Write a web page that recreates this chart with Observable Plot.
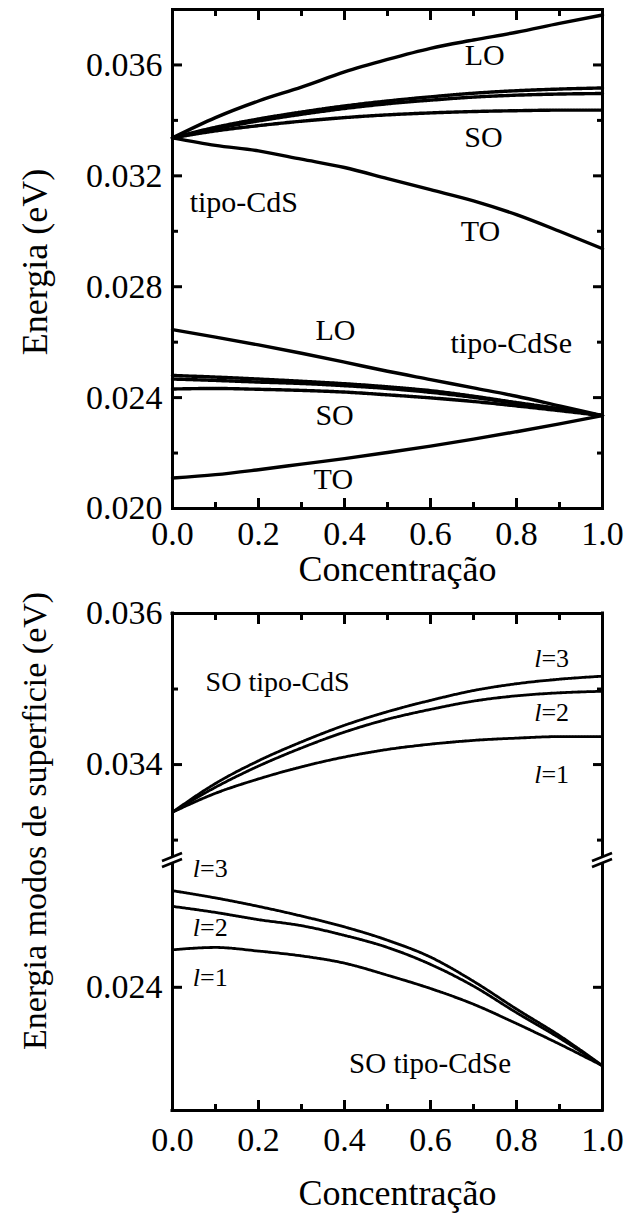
<!DOCTYPE html>
<html><head><meta charset="utf-8">
<script src="https://cdn.jsdelivr.net/npm/d3@7"></script>
<script src="https://cdn.jsdelivr.net/npm/@observablehq/plot@0.6"></script>
<style>
body{margin:0;background:#fff;}
#wrap{position:relative;width:628px;height:1214px;overflow:hidden;background:#fff;}
#wrap svg{position:absolute;left:0;top:0;overflow:visible;font-family:"Liberation Serif","Times New Roman",serif;}
#wrap svg text{font-family:"Liberation Serif","Times New Roman",serif;}
</style></head><body><div id="wrap"></div>
<script>
// ---- data ----
const conc = [0, 0.1, 0.2, 0.3, 0.4, 0.5, 0.6, 0.7, 0.8, 0.9, 1.0];
const cdsLO  = [0.03337, 0.0341, 0.0347, 0.0352, 0.03575, 0.0362, 0.0366, 0.0369, 0.03718, 0.0375, 0.0378];
const cdsTO  = [0.03337, 0.0331, 0.0329, 0.0326, 0.0323, 0.0319, 0.0315, 0.0311, 0.0306, 0.0300, 0.02937];
const cdsSO1 = [0.03337, 0.03362, 0.03381, 0.03397, 0.0341, 0.0342, 0.03427, 0.03432, 0.03435, 0.03437, 0.03437];
const cdsSO2 = [0.03337, 0.0337, 0.03398, 0.03422, 0.03443, 0.0346, 0.03473, 0.03484, 0.03491, 0.03495, 0.03497];
const cdsSO3 = [0.03337, 0.03375, 0.03405, 0.0343, 0.03452, 0.0347, 0.03485, 0.03498, 0.03507, 0.03513, 0.03517];
const cdseLO  = [0.02645, 0.02618, 0.0259, 0.0256, 0.02528, 0.02495, 0.02465, 0.02435, 0.02405, 0.0237, 0.02335];
const cdseTO  = [0.0211, 0.02122, 0.0214, 0.0216, 0.0218, 0.02202, 0.02225, 0.0225, 0.02277, 0.02305, 0.02335];
const cdseSO1 = [0.02431, 0.02433, 0.0243, 0.02426, 0.0242, 0.0241, 0.02399, 0.02386, 0.0237, 0.02353, 0.02335];
const cdseSO2 = [0.02467, 0.02462, 0.02456, 0.02451, 0.02443, 0.02433, 0.02419, 0.02401, 0.02379, 0.02358, 0.02335];
const cdseSO3 = [0.0248, 0.02474, 0.02467, 0.02459, 0.0245, 0.02439, 0.02425, 0.02405, 0.02382, 0.0236, 0.02335];

const xMajor = [0, 0.2, 0.4, 0.6, 0.8, 1.0];
const xMinor = [0.1, 0.3, 0.5, 0.7, 0.9];
const topYMajor = [0.020, 0.024, 0.028, 0.032, 0.036];
const topYMinor = [0.022, 0.026, 0.030, 0.034];
const upYMajor = [0.034, 0.036];
const upYMinor = [0.033, 0.035];
const loYMajor = [0.024];

const topDomain = [0.020, 0.038];
const upDomain = [0.03273, 0.036];
const loDomain = [0.02298, 0.02505];

const topLabels = [
  {t: "LO", x: 0.726, y: 0.03636, a: "middle"},
  {t: "SO", x: 0.723, y: 0.0334, a: "middle"},
  {t: "TO", x: 0.716, y: 0.02998, a: "middle"},
  {t: "tipo-CdS", x: 0.04, y: 0.03106, a: "start"},
  {t: "LO", x: 0.379, y: 0.02641, a: "middle"},
  {t: "tipo-CdSe", x: 0.788, y: 0.02595, a: "middle"},
  {t: "SO", x: 0.377, y: 0.02335, a: "middle"},
  {t: "TO", x: 0.374, y: 0.02105, a: "middle"}
];
const upLabels = [{t: "SO tipo-CdS", x: 0.077, y: 0.03509}];
const upL = [{n: "=3", x: 0.858, y: 0.0354}, {n: "=2", x: 0.858, y: 0.03469}, {n: "=1", x: 0.858, y: 0.03387}];
const loLabels = [{t: "SO tipo-CdSe", x: 0.599, y: 0.02337}];
const loL = [{n: "=3", x: 0.064, y: 0.02498}, {n: "=2", x: 0.064, y: 0.02449}, {n: "=1", x: 0.064, y: 0.02408}];

const series = (name, vals) => vals.map((v, i) => ({c: conc[i], e: v, s: name}));
const solidTop = [...series("cdsLO", cdsLO), ...series("cdsTO", cdsTO), ...series("cdseLO", cdseLO), ...series("cdseTO", cdseTO)];
const soCdS = [...series("s1", cdsSO1), ...series("s2", cdsSO2), ...series("s3", cdsSO3)];
const soCdSe = [...series("e1", cdseSO1), ...series("e2", cdseSO2), ...series("e3", cdseSO3)];

const W = 628, H = 1214, ML = 172, MR = 26;
const fmt3 = d3.format(".3f"), fmt1 = d3.format(".1f"), none = () => "";
const TICK = 34;
const FONT = "'Liberation Serif', 'Times New Roman', serif";
const STYLE = {background: "transparent", overflow: "visible", fontFamily: FONT};
const T = {fontFamily: FONT, fill: "black"};

function yAxes(major, minor, labelPad) {
  return [
    Plot.axisY(major, {anchor: "left", tickSize: -10, tickPadding: labelPad, strokeWidth: 3, tickFormat: fmt3, fontSize: TICK, fontFamily: FONT, label: null}),
    Plot.axisY(minor, {anchor: "left", tickSize: -6, strokeWidth: 3, tickFormat: none, label: null}),
    Plot.axisY(major, {anchor: "right", tickSize: -10, strokeWidth: 3, tickFormat: none, label: null}),
    Plot.axisY(minor, {anchor: "right", tickSize: -6, strokeWidth: 3, tickFormat: none, label: null})
  ];
}
function xAxes(anchor, withLabels, pad) {
  return [
    Plot.axisX(xMajor, {anchor, tickSize: -10, tickPadding: pad, strokeWidth: 3, tickFormat: withLabels ? fmt1 : none, fontSize: TICK, fontFamily: FONT, label: null}),
    Plot.axisX(xMinor, {anchor, tickSize: -6, strokeWidth: 3, tickFormat: none, label: null})
  ];
}
const title = (s, opts) => Plot.text([s], {...T, textAnchor: "middle", lineAnchor: "middle", ...opts});

// ---- top panel ----
const topPlot = Plot.plot({
  width: W, height: H, marginLeft: ML, marginRight: MR, marginTop: 9, marginBottom: H - 508,
  x: {domain: [0, 1]}, y: {domain: topDomain},
  style: STYLE,
  marks: [
    Plot.line(solidTop, {x: "c", y: "e", z: "s", stroke: "black", strokeWidth: 3.4, curve: "monotone-x"}),
    Plot.line([...soCdS, ...soCdSe], {x: "c", y: "e", z: "s", stroke: "black", strokeWidth: 3.4, strokeDasharray: "2.2 0.8", curve: "monotone-x"}),
    Plot.text(topLabels, {...T, filter: d => d.a === "middle", x: "x", y: "y", text: "t", textAnchor: "middle", fontSize: 30}),
    Plot.text(topLabels, {...T, filter: d => d.a === "start", x: "x", y: "y", text: "t", textAnchor: "start", fontSize: 30}),
    ...yAxes(topYMajor, topYMinor, 20),
    ...xAxes("bottom", true, 22),
    ...xAxes("top", false, 0),
    Plot.frame({stroke: "black", strokeWidth: 3}),
    title("Concentração", {frameAnchor: "bottom", dx: 10, dy: 61, fontSize: 36}),
    title("Energia (eV)", {frameAnchor: "left", dx: -137, dy: 3, rotate: -90, fontSize: 36})
  ]
});

// ---- bottom panel, upper part ----
const upPlot = Plot.plot({
  width: W, height: H, marginLeft: ML, marginRight: MR, marginTop: 613, marginBottom: H - 860,
  x: {domain: [0, 1]}, y: {domain: upDomain},
  style: STYLE,
  marks: [
    Plot.line(soCdS, {x: "c", y: "e", z: "s", stroke: "black", strokeWidth: 2.8, strokeDasharray: "2.2 0.8", curve: "monotone-x"}),
    Plot.text(upLabels, {...T, x: "x", y: "y", text: "t", textAnchor: "start", fontSize: 28}),
    Plot.text(upL, {...T, x: "x", y: "y", text: () => "l", textAnchor: "end", fontSize: 26, fontStyle: "italic"}),
    Plot.text(upL, {...T, x: "x", y: "y", text: "n", textAnchor: "start", fontSize: 26}),
    ...yAxes(upYMajor, upYMinor, 20),
    ...xAxes("top", false, 0),
    Plot.ruleX([0, 1], {stroke: "black", strokeWidth: 3, strokeLinecap: "square"}),
    Plot.ruleY([upDomain[1]], {stroke: "black", strokeWidth: 3, strokeLinecap: "square"}),
    title("Energia modos de superficie (eV)", {frameAnchor: "left", dx: -137, dy: 84, rotate: -90, fontSize: 34})
  ]
});

// ---- bottom panel, lower part ----
const loPlot = Plot.plot({
  width: W, height: H, marginLeft: ML, marginRight: MR, marginTop: 860, marginBottom: H - 1110,
  x: {domain: [0, 1]}, y: {domain: loDomain},
  style: STYLE,
  marks: [
    Plot.line(soCdSe, {x: "c", y: "e", z: "s", stroke: "black", strokeWidth: 2.8, strokeDasharray: "2.2 0.8", curve: "monotone-x"}),
    Plot.text(loLabels, {...T, x: "x", y: "y", text: "t", textAnchor: "middle", fontSize: 29}),
    Plot.text(loL, {...T, x: "x", y: "y", text: () => "l", textAnchor: "end", fontSize: 26, fontStyle: "italic"}),
    Plot.text(loL, {...T, x: "x", y: "y", text: "n", textAnchor: "start", fontSize: 26}),
    ...yAxes(loYMajor, [], 20),
    ...xAxes("bottom", true, 26),
    Plot.ruleX([0, 1], {stroke: "black", strokeWidth: 3, strokeLinecap: "square"}),
    Plot.ruleY([loDomain[0]], {stroke: "black", strokeWidth: 3, strokeLinecap: "square"}),
    title("Concentração", {frameAnchor: "bottom", dx: 10, dy: 83, fontSize: 36})
  ]
});

const wrap = document.getElementById("wrap");
wrap.append(topPlot, upPlot, loPlot);

// axis-break marks drawn at the join of the two y scales
const sx = loPlot.scale("x"), sy = loPlot.scale("y");
const yb = sy.apply(loDomain[1]);
const g = d3.select(loPlot).append("g");
for (const xv of [0, 1]) {
  const x0 = sx.apply(xv);
  g.append("path").attr("d", `M${x0-10},${yb+1}L${x0+10},${yb-7}L${x0+10},${yb-1}L${x0-10},${yb+7}Z`).attr("fill", "white");
  g.append("path").attr("d", `M${x0-10},${yb+1}L${x0+10},${yb-7}`).attr("stroke", "black").attr("stroke-width", 2.6);
  g.append("path").attr("d", `M${x0-10},${yb+7}L${x0+10},${yb-1}`).attr("stroke", "black").attr("stroke-width", 2.6);
}
</script></body></html>
